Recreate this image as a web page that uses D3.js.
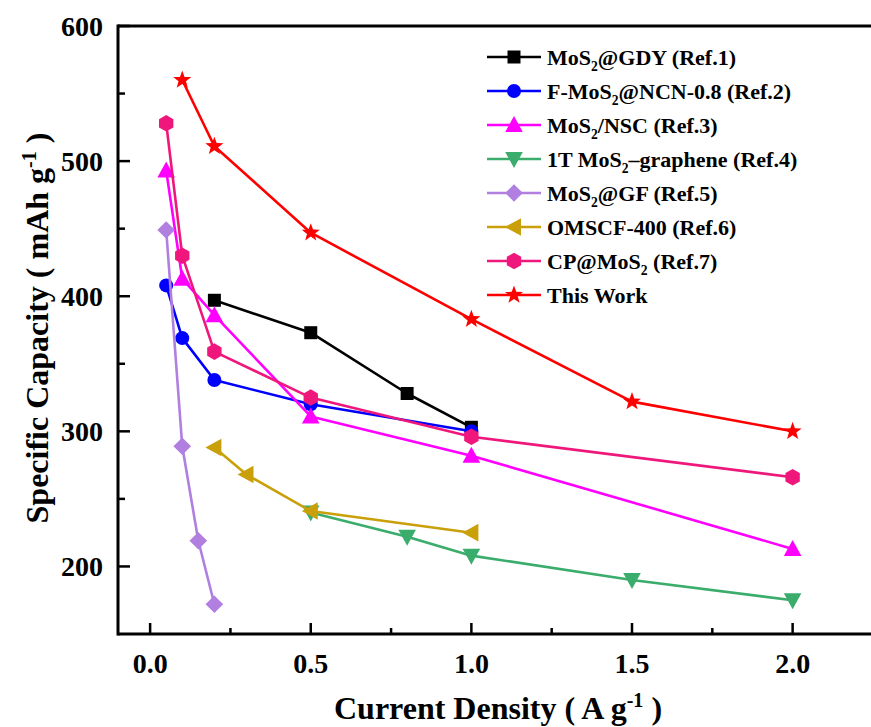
<!DOCTYPE html>
<html>
<head>
<meta charset="utf-8">
<script src="https://cdn.jsdelivr.net/npm/d3@7"></script>
<style>
  html, body { margin: 0; padding: 0; background: #fff; }
  svg { display: block; font-family: "Liberation Serif", "Times New Roman", serif; font-weight: bold; }
</style>
</head>
<body>
<svg id="chart" width="871" height="727"></svg>
<script>
// Rate capability comparison of MoS2-based anodes
const seriesNames = [
  "MoS_2@GDY (Ref.1)",
  "F-MoS_2@NCN-0.8 (Ref.2)",
  "MoS_2/NSC (Ref.3)",
  "1T MoS_2–graphene (Ref.4)",
  "MoS_2@GF (Ref.5)",
  "OMSCF-400 (Ref.6)",
  "CP@MoS_2 (Ref.7)",
  "This Work"
];
const seriesColors = ["#000000", "#0000ff", "#ff00ff", "#3aad6c", "#b07fe0", "#c9a00a", "#f0177c", "#ff0000"];
const seriesSymbols = ["square", "circle", "triangleUp", "triangleDown", "diamond", "triangleLeft", "hexagon", "star"];

const ref1X = [0.2, 0.5, 0.8, 1.0];
const ref1Y = [397, 373, 328, 303];
const ref2X = [0.05, 0.1, 0.2, 0.5, 1.0];
const ref2Y = [408, 369, 338, 320, 300];
const ref3X = [0.05, 0.1, 0.2, 0.5, 1.0, 2.0];
const ref3Y = [493, 413, 386, 311, 282, 213];
const ref4X = [0.5, 0.8, 1.0, 1.5, 2.0];
const ref4Y = [240, 222, 208, 190, 175];
const ref5X = [0.05, 0.1, 0.15, 0.2];
const ref5Y = [449, 289, 219, 172];
const ref6X = [0.2, 0.3, 0.5, 1.0];
const ref6Y = [288, 268, 241, 225];
const ref7X = [0.05, 0.1, 0.2, 0.5, 1.0, 2.0];
const ref7Y = [528, 430, 359, 325, 296, 266];
const workX = [0.1, 0.2, 0.5, 1.0, 1.5, 2.0];
const workY = [560, 511, 447, 383, 322, 300];

const xTicks = [0.0, 0.5, 1.0, 1.5, 2.0];
const xMinorTicks = [0.25, 0.75, 1.25, 1.75, 2.25];
const yTicks = [200, 300, 400, 500, 600];
const yMinorTicks = [250, 350, 450, 550];

const seriesX = [ref1X, ref2X, ref3X, ref4X, ref5X, ref6X, ref7X, workX];
const seriesY = [ref1Y, ref2Y, ref3Y, ref4Y, ref5Y, ref6Y, ref7Y, workY];
const series = seriesNames.map((name, i) => ({
  name, color: seriesColors[i], symbol: seriesSymbols[i],
  points: seriesX[i].map((x, j) => ({ x, y: seriesY[i][j] }))
}));

const svg = d3.select("#chart");
const x = d3.scaleLinear().domain([-0.1, 2.3]).range([118, 889]);
const y = d3.scaleLinear().domain([150, 600]).range([634, 26]);

// Marker path generators, centred on the origin
function symbolPath(kind) {
  const p = d3.path();
  const poly = pts => { pts.forEach((q, i) => i ? p.lineTo(q[0], q[1]) : p.moveTo(q[0], q[1])); p.closePath(); };
  switch (kind) {
    case "square": { const s = 6.5; poly([[-s,-s],[s,-s],[s,s],[-s,s]]); break; }
    case "circle": p.arc(0, 0, 7, 0, 2 * Math.PI); break;
    case "triangleUp": poly([[0,-9],[8.8,7],[-8.8,7]]); break;
    case "triangleDown": poly([[0,9],[8.8,-7],[-8.8,-7]]); break;
    case "triangleLeft": poly([[-9,0],[7,-8.8],[7,8.8]]); break;
    case "diamond": poly([[0,-8.8],[8.8,0],[0,8.8],[-8.8,0]]); break;
    case "hexagon": {
      const r = 8.3;
      poly(d3.range(6).map(k => { const a = -Math.PI / 2 + k * Math.PI / 3; return [r * Math.cos(a), r * Math.sin(a)]; }));
      break;
    }
    case "star": {
      const ro = 9.5, ri = 3.9;
      poly(d3.range(10).map(k => { const r = k % 2 ? ri : ro; const a = -Math.PI / 2 + k * Math.PI / 5; return [r * Math.cos(a), r * Math.sin(a)]; }));
      break;
    }
  }
  return p.toString();
}

// Axes frame: left, bottom and top lines
const axisW = 3;
svg.append("line").attr("x1", x(-0.1)).attr("x2", x(-0.1)).attr("y1", y(600) - axisW / 2).attr("y2", y(150) + axisW / 2)
  .attr("stroke", "#000").attr("stroke-width", axisW);
svg.append("line").attr("x1", x(-0.1)).attr("x2", 880).attr("y1", y(150)).attr("y2", y(150))
  .attr("stroke", "#000").attr("stroke-width", axisW);
svg.append("line").attr("x1", x(-0.1)).attr("x2", 880).attr("y1", y(600)).attr("y2", y(600))
  .attr("stroke", "#000").attr("stroke-width", axisW);

// Ticks point inward
const g = svg.append("g");
g.selectAll(".ytk").data(yTicks).join("line")
  .attr("x1", x(-0.1)).attr("x2", x(-0.1) + 12).attr("y1", d => y(d)).attr("y2", d => y(d))
  .attr("stroke", "#000").attr("stroke-width", 2.5);
g.selectAll(".ytm").data(yMinorTicks).join("line")
  .attr("x1", x(-0.1)).attr("x2", x(-0.1) + 7).attr("y1", d => y(d)).attr("y2", d => y(d))
  .attr("stroke", "#000").attr("stroke-width", 2.5);
g.selectAll(".xtk").data(xTicks).join("line")
  .attr("x1", d => x(d)).attr("x2", d => x(d)).attr("y1", y(150)).attr("y2", y(150) - 11)
  .attr("stroke", "#000").attr("stroke-width", 2.5);
g.selectAll(".xtm").data(xMinorTicks).join("line")
  .attr("x1", d => x(d)).attr("x2", d => x(d)).attr("y1", y(150)).attr("y2", y(150) - 6)
  .attr("stroke", "#000").attr("stroke-width", 2.5);

// Tick labels
g.selectAll(".ytl").data(yTicks).join("text")
  .attr("x", 103).attr("y", d => y(d)).attr("dy", "0.34em")
  .attr("text-anchor", "end").attr("font-size", 28).text(d => d);
g.selectAll(".xtl").data(xTicks).join("text")
  .attr("x", d => x(d)).attr("y", 673)
  .attr("text-anchor", "middle").attr("font-size", 28).text(d => d.toFixed(1));

// Axis titles
const xt = svg.append("text").attr("x", 498).attr("y", 719).attr("text-anchor", "middle").attr("font-size", 32);
xt.append("tspan").text("Current Density ( A g");
xt.append("tspan").attr("font-size", 20).attr("dy", -12).text("-1");
xt.append("tspan").attr("dy", 12).text(" )");

const yt = svg.append("text").attr("transform", "translate(48,328) rotate(-90)").attr("text-anchor", "middle").attr("font-size", 32);
yt.append("tspan").text("Specific Capacity ( mAh g");
yt.append("tspan").attr("font-size", 20).attr("dy", -12).text("-1");
yt.append("tspan").attr("dy", 12).text(" )");

// Series lines and markers
const line = d3.line().x(d => x(d.x)).y(d => y(d.y));
series.forEach(s => {
  const sg = svg.append("g");
  sg.append("path").attr("d", line(s.points)).attr("fill", "none")
    .attr("stroke", s.color).attr("stroke-width", 2.6).attr("stroke-linejoin", "round");
  sg.selectAll("path.m").data(s.points).join("path").attr("class", "m")
    .attr("transform", d => `translate(${x(d.x)},${y(d.y)})`)
    .attr("d", symbolPath(s.symbol)).attr("fill", s.color);
});

// Legend
function addRichText(sel, label, size) {
  label.split(/_(\d)/).forEach((part, i) => {
    if (!part) return;
    if (i % 2 === 1) {
      sel.append("tspan").attr("font-size", size * 0.62).attr("dy", 6).text(part);
    } else {
      const t = sel.append("tspan").text(part);
      if (i > 0) t.attr("dy", -6);
    }
  });
}
const legend = svg.append("g");
series.forEach((s, i) => {
  const cy = 57 + i * 34;
  legend.append("line").attr("x1", 487).attr("x2", 541).attr("y1", cy).attr("y2", cy)
    .attr("stroke", s.color).attr("stroke-width", 2.6);
  legend.append("path").attr("transform", `translate(514,${cy})`).attr("d", symbolPath(s.symbol)).attr("fill", s.color);
  const t = legend.append("text").attr("x", 547).attr("y", cy + 7.5).attr("font-size", 22);
  addRichText(t, s.name, 22);
});
</script>
</body>
</html>
